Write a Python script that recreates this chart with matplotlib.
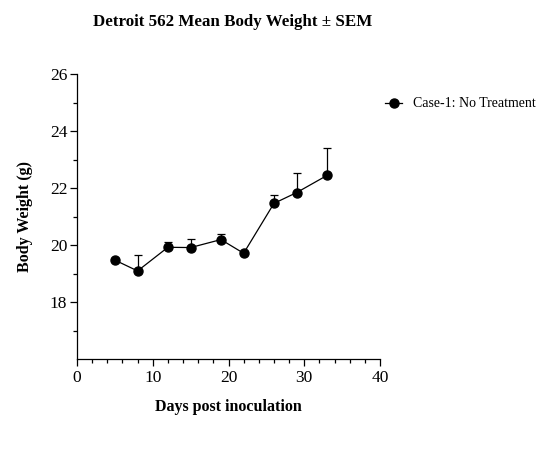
import numpy as np
import matplotlib
matplotlib.use("Agg")
import matplotlib.pyplot as plt

days = [5, 8, 12, 15, 19, 22, 26, 29, 33]
weight = [19.47, 19.09, 19.92, 19.91, 20.19, 19.71, 21.46, 21.84, 22.44]
sem = [0.08, 0.56, 0.19, 0.30, 0.20, 0.05, 0.29, 0.67, 0.95]
series_name = "Case-1: No Treatment"

plt.rcParams['font.family'] = ['Liberation Serif', 'DejaVu Serif']

fig = plt.figure(figsize=(5.47, 4.49), dpi=100)
ax = fig.add_axes([77/547, (449-359)/449, (380-77)/547, (359-74)/449])

# upper error bars only
ax.errorbar(days, weight, yerr=[np.zeros(len(sem)), sem], fmt='none',
            ecolor='black', elinewidth=0.9, capsize=3, capthick=0.9)
ax.plot(days, weight, color='black', marker='o', markersize=6.5,
        linewidth=0.9, label=series_name)

ax.set_xlim(0, 40)
ax.set_ylim(16, 26)
ax.set_xticks(np.arange(0, 41, 10))
ax.set_xticks(np.arange(0, 41, 2), minor=True)
ax.set_yticks(np.arange(18, 27, 2))
ax.set_yticks(np.arange(17, 26, 2), minor=True)
ax.tick_params(labelsize=12.5, length=5, width=0.9, direction='out', pad=3)
ax.tick_params(axis='y', pad=2)
ax.tick_params(which='minor', length=3, width=0.9)
for side in ['top', 'right']:
    ax.spines[side].set_visible(False)
for side in ['left', 'bottom']:
    ax.spines[side].set_linewidth(0.9)

ax.set_xlabel("Days post inoculation", fontsize=11.5, fontweight='bold', labelpad=9)
ax.set_ylabel("Body Weight (g)", fontsize=11.5, fontweight='bold', labelpad=12)
fig.text(233/547, 1 - 22/449, "Detroit 562 Mean Body Weight \u00b1 SEM",
         fontsize=12.2, fontweight='bold', ha='center', va='center')

ax.legend(loc='center left', bbox_to_anchor=(0.985, 0.895), frameon=False,
          fontsize=10, handlelength=1.2, handletextpad=0.8, borderaxespad=0.3)

fig.savefig("out.png", dpi=100)
